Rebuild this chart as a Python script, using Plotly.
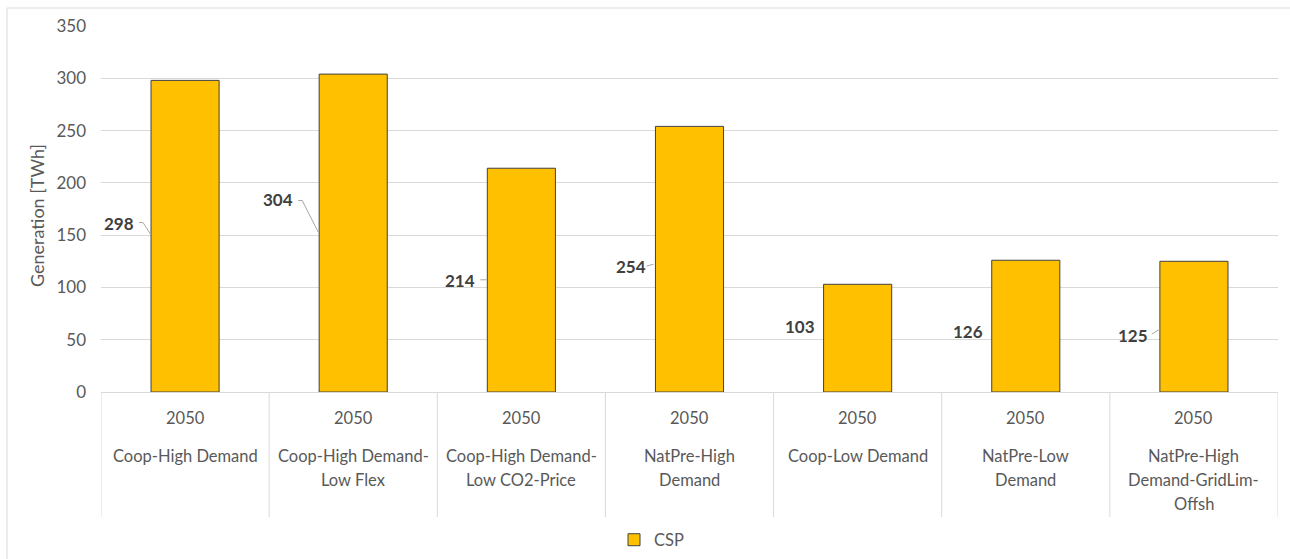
import plotly.graph_objects as go

# ---- data ----
years = ["2050"] * 7
scenarios = [
    ["Coop-High Demand"],
    ["Coop-High Demand-", "Low Flex"],
    ["Coop-High Demand-", "Low CO2-Price"],
    ["NatPre-High", "Demand"],
    ["Coop-Low Demand"],
    ["NatPre-Low", "Demand"],
    ["NatPre-High", "Demand-GridLim-", "Offsh"],
]
csp = [298, 304, 214, 254, 103, 126, 125]
series_name = "CSP"

# ---- label placement (layout only) ----
label_y = [160.7, 184.1, 106.4, 119.8, 62.4, 57.7, 54.5]
label_dx = [-66, -75, -61, -59, -58, -58, -61]
# leader lines: (pixel dx points, data y points)
leaders = {
    0: ([-46, -42, -34], [162.0, 162.0, 150.1]),
    1: ([-55, -51, -35], [183.1, 183.1, 153.0]),
    2: ([-41, -35], [107.3, 107.3]),
    3: ([-43, -36], [120.4, 122.2]),
    6: ([-42, -34], [55.4, 60.2]),
}

FONT = "Lato"
TXT = "#595959"
GRID = "#D9D9D9"
FS = 16.5

x = list(range(len(csp)))

fig = go.Figure()
fig.add_trace(go.Bar(
    x=x, y=csp, name=series_name, width=0.405,
    marker=dict(color="#FFC000", line=dict(color="#404040", width=1)),
    hoverinfo="skip",
))

annotations = []
shapes = []

# axis title
annotations.append(dict(
    text="Generation [TWh]", xref="paper", yref="paper",
    x=(37 - 101) / 1177, y=(392 - 216) / 366, textangle=-90, showarrow=False,
    xanchor="center", yanchor="middle",
    font=dict(family=FONT, size=18, color=TXT),
))

for i in x:
    # data labels
    annotations.append(dict(
        text=f"<b>{csp[i]}</b>", x=i, y=label_y[i], xref="x", yref="y",
        xshift=label_dx[i], showarrow=False, xanchor="center", yanchor="middle",
        font=dict(family=FONT, size=17, color="#404040"),
    ))
    # category labels
    annotations.append(dict(
        text=years[i], x=i, y=0, xref="x", yref="paper", yshift=-26,
        showarrow=False, xanchor="center", yanchor="middle",
        font=dict(family=FONT, size=FS, color=TXT),
    ))
    for k, line in enumerate(scenarios[i]):
        annotations.append(dict(
            text=line, x=i, y=0, xref="x", yref="paper", yshift=-64 - 24 * k,
            showarrow=False, xanchor="center", yanchor="middle",
            font=dict(family=FONT, size=FS, color=TXT),
        ))

# dividers
for i in range(len(csp) + 1):
    shapes.append(dict(
        type="line", xref="x", yref="paper", x0=i - 0.5, x1=i - 0.5,
        y0=0, y1=(392 - 517) / 366, line=dict(color=GRID, width=1), layer="below",
    ))

# leader lines
for i, (dxs, ys) in leaders.items():
    path = "M" + " L".join(f"{dx},{yy}" for dx, yy in zip(dxs, ys))
    shapes.append(dict(
        type="path", xref="x", yref="y", xsizemode="pixel", xanchor=i,
        path=path, line=dict(color="#A6A6A6", width=1),
    ))

# chart border
shapes.append(dict(
    type="rect", xref="paper", yref="paper",
    x0=(7 - 101) / 1177, x1=(1300 - 101) / 1177,
    y0=(392 - 580) / 366, y1=(392 - 8) / 366,
    line=dict(color=GRID, width=1), layer="below",
))

fig.update_layout(
    width=1290, height=559,
    margin=dict(l=101, r=12, t=26, b=167, autoexpand=False),
    paper_bgcolor="white", plot_bgcolor="white",
    font=dict(family=FONT, size=FS, color=TXT),
    xaxis=dict(range=[-0.5, 6.5], showticklabels=False, showgrid=False,
               zeroline=False, showline=False, fixedrange=True),
    yaxis=dict(range=[0, 350], dtick=50, showgrid=True, gridcolor=GRID,
               gridwidth=1, zeroline=True, zerolinecolor=GRID, zerolinewidth=1,
               showline=False, ticks="", ticklabelstandoff=14,
               tickfont=dict(family=FONT, size=17, color=TXT)),
    showlegend=True,
    legend=dict(orientation="h", xref="paper", x=(614 - 101) / 1177,
                yref="container", y=(559 - 540) / 559,
                xanchor="left", yanchor="middle",
                font=dict(family=FONT, size=FS, color=TXT),
                itemwidth=30),
    annotations=annotations,
    shapes=shapes,
)

fig.write_html("out.html")
